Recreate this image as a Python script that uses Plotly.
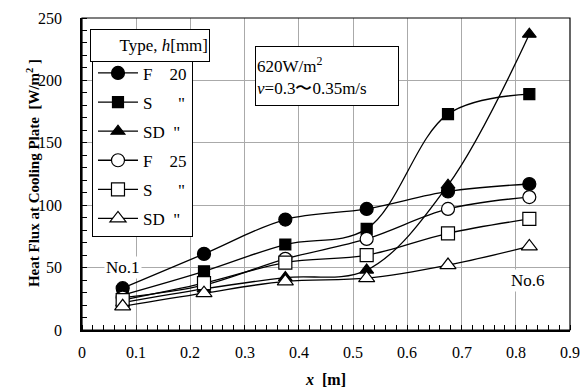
import plotly.graph_objects as go

# ---- data ----
x_pos = [0.075, 0.225, 0.375, 0.525, 0.675, 0.825]
series_names = ['F\u00a0\u00a0\u00a0\u00a020', 'S\u00a0\u00a0\u00a0\u00a0\u00a0\u00a0"', 'SD\u00a0\u00a0"',
                'F\u00a0\u00a0\u00a0\u00a025', 'S\u00a0\u00a0\u00a0\u00a0\u00a0\u00a0"', 'SD\u00a0\u00a0"']
F20 = [33.5, 61, 88.5, 97, 111, 117]
S20 = [28, 47, 68.5, 81, 173, 189]
SD20 = [22, 33, 42, 48, 116, 237]
F25 = [26, 36, 57, 73, 97, 106.5]
S25 = [24, 37.5, 54, 60, 77.5, 89]
SD25 = [19, 29.5, 39, 41.5, 52, 67]
y_ticks = [0, 50, 100, 150, 200, 250]
x_ticks = [0, 0.1, 0.2, 0.3, 0.4, 0.5, 0.6, 0.7, 0.8, 0.9]

FONT = "Liberation Serif"
W, H = 583, 390
ML, MR, MT, MB = 82, 12.5, 17.5, 59.5
PW, PH = W - ML - MR, H - MT - MB

def px(x):
    return (x - ML) / PW

def py(y):
    return (H - MB - y) / PH

styles = [
    ('circle', 'black', 13),
    ('square', 'black', 11),
    ('triangle-up', 'black', 12),
    ('circle', 'white', 13),
    ('square', 'white', 13),
    ('triangle-up', 'white', 14),
]
data = [F20, S20, SD20, F25, S25, SD25]

fig = go.Figure()
for i, (ys, name, (sym, fill, sz)) in enumerate(zip(data, series_names, styles)):
    fig.add_trace(go.Scatter(
        x=x_pos, y=ys, name=name, mode='lines+markers',
        line=dict(color='black', width=1.3, shape='spline', smoothing=1),
        marker=dict(symbol=sym, color=fill, size=sz, line=dict(color='black', width=1.2)),
        legendgroup=str(i),
    ))

fig.update_layout(
    width=W, height=H,
    margin=dict(l=ML, r=MR, t=MT, b=MB),
    paper_bgcolor='white', plot_bgcolor='white',
    font=dict(family=FONT, size=16, color='black'),
    showlegend=True,
    legend=dict(
        x=px(92), y=py(54), xanchor='left', yanchor='top',
        bordercolor='black', borderwidth=1, bgcolor='white',
        font=dict(family=FONT, size=17),
        traceorder='grouped', tracegroupgap=4, itemwidth=40,
    ),
)
fig.update_xaxes(
    range=[0, 0.9], tickvals=x_ticks, showticklabels=False,
    showgrid=True, gridcolor='#aaaaaa', gridwidth=1,
    showline=True, linecolor='black', linewidth=2,
    ticks='', zeroline=False,
    minor=dict(dtick=0.02, tick0=0, ticks='inside', ticklen=5, tickcolor='black', showgrid=False),
)
fig.update_yaxes(
    range=[0, 250], tickvals=y_ticks, showticklabels=False,
    showgrid=True, gridcolor='#aaaaaa', gridwidth=1,
    showline=True, linecolor='black', linewidth=2,
    ticks='', zeroline=False,
    minor=dict(dtick=10, tick0=0, ticks='inside', ticklen=5, tickcolor='black', showgrid=False),
)

# tick labels placed through the axes' own scales
for v in x_ticks:
    fig.add_annotation(text='%g' % v, xref='x', yref='paper', x=v, y=py(353),
                       xanchor='center', yanchor='middle', showarrow=False, font=dict(size=16))
for v in y_ticks:
    fig.add_annotation(text='%g' % v, xref='paper', yref='y', x=px(64), y=v,
                       xanchor='right', yanchor='middle', showarrow=False, font=dict(size=16))

# frame top/right
fig.add_shape(type='rect', xref='paper', yref='paper', x0=0, x1=1, y0=0, y1=1,
              line=dict(color='black', width=1.2), layer='above')

# axis titles
fig.add_annotation(text='<b>Heat Flux at Cooling Plate  [W/m<sup>2</sup> ]</b>', textangle=-90,
                   xref='paper', yref='paper', x=px(22), y=py(173),
                   showarrow=False, font=dict(size=15))
fig.add_annotation(text='<b><i>x</i>  [m]</b>', xref='paper', yref='paper',
                   x=px(326), y=py(390.5), showarrow=False, font=dict(size=16))

# legend header (auto anchors: left / top)
fig.add_annotation(text='Type, <i>h</i>[mm]', xref='paper', yref='paper', x=px(90), y=py(29),
                   showarrow=False, bordercolor='black', borderwidth=1, bgcolor='white',
                   width=116, height=29, align='right', font=dict(size=17))

# condition box (auto anchors: center / top)
fig.add_annotation(text='620W/m<sup>2</sup><br><i>v</i>=0.3\u301c0.35m/s', xref='paper', yref='paper',
                   x=px(327.5), y=py(46), showarrow=False, bordercolor='black', borderwidth=1,
                   bgcolor='white', width=140, height=56, align='left', font=dict(size=17))

# No.1 (auto anchors: left / bottom), No.6 (right / bottom)
fig.add_annotation(text='No.1', xref='paper', yref='paper', x=px(104), y=py(279), showarrow=False,
                   bgcolor='white', font=dict(size=17))
fig.add_annotation(text='No.6', xref='paper', yref='paper', x=px(547.5), y=py(292.5), showarrow=False,
                   bgcolor='white', font=dict(size=17))

fig.write_html("out.html")
